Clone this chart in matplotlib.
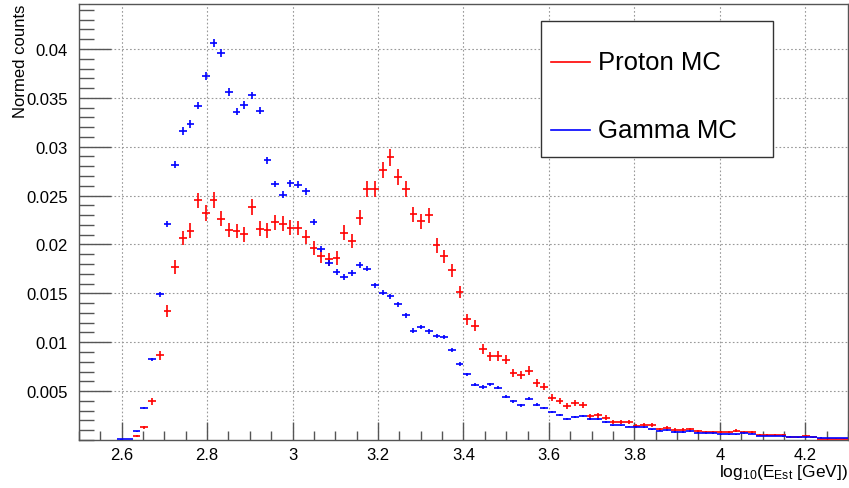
import numpy as np
import matplotlib
matplotlib.use("Agg")
from matplotlib import pyplot as plt
from matplotlib.patches import Rectangle
from matplotlib.lines import Line2D
from matplotlib.ticker import MultipleLocator, FixedLocator

plt.rcParams['font.family'] = ['Liberation Sans', 'DejaVu Sans']
plt.rcParams['mathtext.fontset'] = 'custom'
plt.rcParams['mathtext.rm'] = 'Liberation Sans'
plt.rcParams['mathtext.it'] = 'Liberation Sans:italic'
plt.rcParams['mathtext.default'] = 'regular'

# histogram binning: 100 bins in log10(E_est)
x_min, x_max, n_bins = 2.5, 4.3, 100

# normalised bin contents (bin 0 .. 99)
proton_mc = [
    0, 0, 0, 0, 0, 0, 0, 0.0004, 0.00129, 0.00395,
    0.00865, 0.01322, 0.01769, 0.02065, 0.0214, 0.0245, 0.02322, 0.02457, 0.02263, 0.02147,
    0.02137, 0.02102, 0.02382, 0.0216, 0.02143, 0.02229, 0.02212, 0.02171, 0.02168, 0.02076,
    0.01963, 0.01877, 0.01847, 0.01861, 0.0212, 0.02035, 0.02273, 0.0257, 0.0257, 0.02762,
    0.02894, 0.02689, 0.0257, 0.02307, 0.02239, 0.02297, 0.0199, 0.01877, 0.01734, 0.01513,
    0.01235, 0.01167, 0.00934, 0.00855, 0.00859, 0.00821, 0.00688, 0.00661, 0.00709, 0.00586,
    0.00545, 0.00432, 0.00399, 0.00351, 0.00374, 0.00354, 0.00245, 0.00252, 0.00228, 0.00187,
    0.00187, 0.00187, 0.00143, 0.00156, 0.00158, 0.0011, 0.00122, 0.00102, 0.00102, 0.00109,
    0.00088, 0.00082, 0.00078, 0.00082, 0.00082, 0.00095, 0.00082, 0.00078, 0.00047, 0.00047,
    0.00047, 0.00047, 0.00034, 0.00027, 0.00041, 0.00027, 0.00013, 0.00013, 0.00013, 0.00013,
]
gamma_mc = [
    0, 0, 0, 0, 0, 0.00005, 0.00012, 0.00088, 0.0033, 0.00824,
    0.01489, 0.0221, 0.02815, 0.0316, 0.03234, 0.03421, 0.03728, 0.04062, 0.03957, 0.03558,
    0.0336, 0.03428, 0.03524, 0.0337, 0.02859, 0.02618, 0.02511, 0.02625, 0.0261, 0.02542,
    0.02229, 0.01956, 0.01813, 0.01718, 0.01667, 0.01708, 0.01792, 0.01752, 0.01581, 0.01506,
    0.01468, 0.01387, 0.01274, 0.01118, 0.01158, 0.0111, 0.01066, 0.01053, 0.00923, 0.00777,
    0.00671, 0.00567, 0.00542, 0.00569, 0.00532, 0.00443, 0.00395, 0.00354, 0.00422, 0.00361,
    0.00327, 0.00286, 0.00259, 0.00218, 0.00235, 0.00241, 0.00211, 0.00211, 0.00184, 0.00149,
    0.00149, 0.00136, 0.00136, 0.00129, 0.00108, 0.00095, 0.00098, 0.00082, 0.00082, 0.00088,
    0.00075, 0.00068, 0.00068, 0.00057, 0.00057, 0.00061, 0.00068, 0.00064, 0.00041, 0.00041,
    0.00041, 0.00038, 0.00034, 0.00027, 0.00027, 0.00027, 0.00024, 0.0002, 0.0002, 0.0002,
]
# total events, for the poisson error bars
n_proton = 38000
n_gamma = 220000

edges = np.linspace(x_min, x_max, n_bins + 1)
centers = 0.5 * (edges[1:] + edges[:-1])
half_w = 0.5 * (edges[1] - edges[0])

fig = plt.figure(figsize=(8.49, 4.89), dpi=100)
ax = fig.add_axes([0.0930, 0.0982, 0.9058, 0.8916])

def draw_hist(vals, n_tot, col):
    v = np.array(vals, dtype=float)
    m = v > 0
    err = np.sqrt(v[m] / n_tot)
    ax.errorbar(centers[m], v[m], xerr=half_w, yerr=err, fmt='none',
                ecolor=col, elinewidth=1.2, capsize=0, zorder=3)

draw_hist(proton_mc, n_proton, '#ff0000')
draw_hist(gamma_mc, n_gamma, '#0000ff')

ax.set_xlim(x_min, x_max)
ax.set_ylim(0, 0.0446)

ax.xaxis.set_major_locator(FixedLocator([2.6, 2.8, 3.0, 3.2, 3.4, 3.6, 3.8, 4.0, 4.2]))
ax.xaxis.set_minor_locator(MultipleLocator(0.05))
ax.yaxis.set_major_locator(FixedLocator([0.005, 0.01, 0.015, 0.02, 0.025, 0.03, 0.035, 0.04]))
ax.yaxis.set_minor_locator(MultipleLocator(0.001))
ax.set_xticklabels(['2.6', '2.8', '3', '3.2', '3.4', '3.6', '3.8', '4', '4.2'])
ax.set_yticklabels(['0.005', '0.01', '0.015', '0.02', '0.025', '0.03', '0.035', '0.04'])

ax.tick_params(axis='x', which='major', direction='in', length=13, width=1, color='#555555',
               labelsize=12, pad=5, top=False)
ax.tick_params(axis='x', which='minor', direction='in', length=6.5, width=1, color='#555555', top=False)
ax.tick_params(axis='y', which='major', direction='in', length=23, width=1, color='#555555',
               labelsize=12, pad=8, right=False)
ax.tick_params(axis='y', which='minor', direction='in', length=11, width=1, color='#555555', right=False)

for s in ax.spines.values():
    s.set_color('#555555')
    s.set_linewidth(1)

ax.grid(True, which='major', linestyle=(0, (1.5, 2)), color='#999999', linewidth=0.8)
ax.set_axisbelow(True)

ax.set_xlabel(r'log$_{10}$(E$_{Est}$ [GeV])', fontsize=12.5, ha='right', x=1.0, labelpad=0)
ax.set_ylabel('Normed counts', fontsize=12, ha='right', y=1.0, labelpad=-1)

# legend box, ROOT style
leg = Rectangle((541 / 849, 1 - 158 / 489), (773 - 541) / 849, (158 - 22) / 489,
                transform=fig.transFigure, facecolor='white', edgecolor='#333333',
                linewidth=1, zorder=5)
fig.patches.append(leg)
for yy, col, lab in [(63, '#ff0000', 'Proton MC'), (131, '#0000ff', 'Gamma MC')]:
    fig.lines.append(Line2D([551 / 849, 590 / 849], [1 - yy / 489, 1 - yy / 489],
                            transform=fig.transFigure, color=col, linewidth=1.2, zorder=6))
    fig.text(598 / 849, 1 - yy / 489, lab, fontsize=18.5, va='center', ha='left', zorder=6)

fig.savefig('out.png', dpi=100)
